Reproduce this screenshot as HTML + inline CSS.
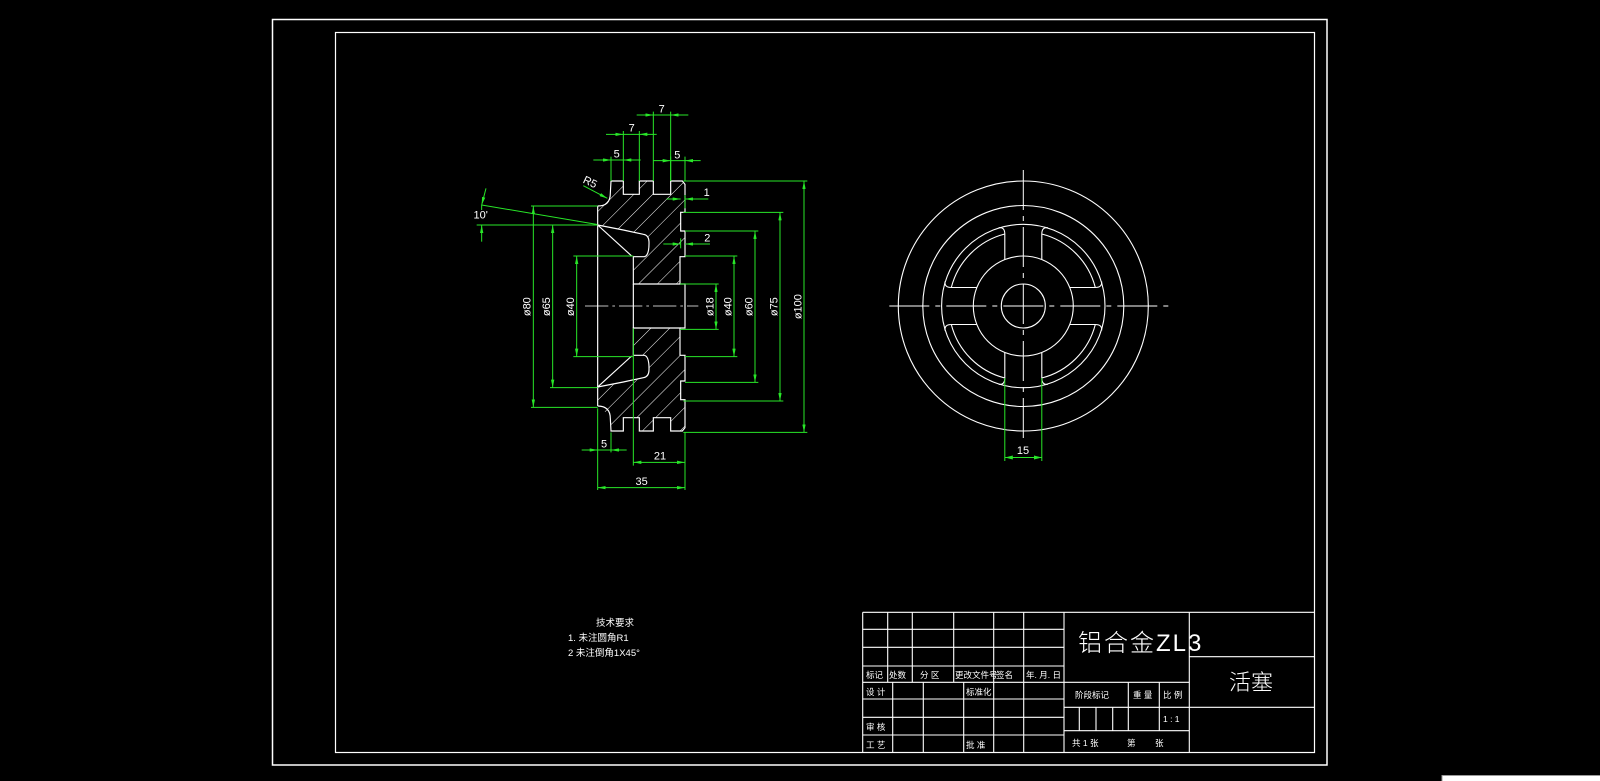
<!DOCTYPE html>
<html><head><meta charset="utf-8"><style>
html,body{margin:0;padding:0;background:#000;}
svg{display:block;}
text{font-family:"Liberation Sans","Noto Sans CJK SC",sans-serif;}
</style></head><body>
<svg width="1600" height="781" viewBox="0 0 1600 781" xmlns="http://www.w3.org/2000/svg">
<defs>
<marker id="ar" markerUnits="userSpaceOnUse" markerWidth="24" markerHeight="10" refX="24" refY="5" orient="auto-start-reverse"><path d="M0,0 L24,5 L0,10 z" fill="#28e628"/></marker>
<marker id="ars" markerUnits="userSpaceOnUse" markerWidth="8" markerHeight="4" refX="8" refY="2" orient="auto-start-reverse"><path d="M0,0 L8,2 L0,4 z" fill="#28e628"/></marker>
<pattern id="hatch" patternUnits="userSpaceOnUse" width="40" height="40" patternTransform="rotate(45)"><line x1="0" y1="0" x2="0" y2="40" stroke="#fff" stroke-width="3"/></pattern>
</defs>
<rect width="1600" height="781" fill="#000"/>
<rect x="272.5" y="19.5" width="1054.5" height="745.5" fill="none" stroke="#fff" stroke-width="1.5"/>
<rect x="335.5" y="32.5" width="979" height="720" fill="none" stroke="#fff" stroke-width="1.2"/>
<rect x="1442" y="775.5" width="160" height="8" fill="#fff" stroke="#999" stroke-width="1"/>

<g transform="translate(450 95) scale(0.333333)">
 <polygon points="443,390 443,333 478,305 483,258 520,258 520,298 568,298 568,258 610,258 610,298 662,298 662,258 697,258 705,268 705,352 692,352 692,408 705,408 705,485 690,485 690,567 550,567 550,485 583,485 597,460 597,432 585,420 520,405" fill="url(#hatch)"/>
 <polygon points="443,876 443,933 478,961 483,1008 520,1008 520,968 568,968 568,1008 610,1008 610,968 662,968 662,1008 697,1008 705,998 705,914 692,914 692,858 705,858 705,781 690,781 690,699 550,699 550,781 583,781 597,806 597,834 585,846 520,861" fill="url(#hatch)"/>
 <g fill="none" stroke="#fff" stroke-width="3.5">
  <path d="M443,333 V933"/>
  <path d="M443,333 Q481,333 481,295 L483,258 H520 V298 H568 V258 H610 V298 H662 V258 H697 L705,268 V352 H692 V408 H705 V485 H690 V567 H550 V485 H583 Q598,482 597,440 Q596,420 580,418 L520,405 L443,390 L545,483 M690,485 H705"/>
  <path d="M443,933 Q481,933 481,971 L483,1008 H520 V968 H568 V1008 H610 V968 H662 V1008 H697 L705,998 V914 H692 V858 H705 V781 H690 V699 H550 V781 H583 Q598,784 597,826 Q596,846 580,848 L520,861 L443,876 L545,783 M690,781 H705"/>
  <path d="M690,567 H705 V699 H690 M550,567 V699"/>
  <path d="M405,633 H745" stroke-width="2.5" stroke-dasharray="70,12,8,12"/>
 </g>
 <g stroke="#28e628" stroke-width="3" fill="none">
  <path d="M610,258 V50 M662,258 V50"/>
  <path d="M560,60 H610" marker-end="url(#ar)"/><path d="M715,60 H662" marker-end="url(#ar)"/><path d="M610,60 H662"/>
  <path d="M520,258 V108 M568,258 V108"/>
  <path d="M468,118 H520" marker-end="url(#ar)"/><path d="M620,118 H568" marker-end="url(#ar)"/><path d="M520,118 H568"/>
  <path d="M483,258 V185"/>
  <path d="M430,195 H483" marker-end="url(#ar)"/><path d="M572,195 H520" marker-end="url(#ar)"/><path d="M483,195 H520"/>
  <path d="M705,258 V185 M662,258 V185"/>
  <path d="M610,197 H662" marker-end="url(#ar)"/><path d="M752,197 H705" marker-end="url(#ar)"/><path d="M662,197 H705"/>
  <path d="M400,272 L472,310" marker-end="url(#ar)"/>
  <path d="M650,312 H692" marker-end="url(#ar)"/><path d="M775,312 H705" marker-end="url(#ar)"/><path d="M705,300 V340"/>
  <path d="M640,447 H692" marker-end="url(#ar)"/><path d="M780,447 H705" marker-end="url(#ar)"/><path d="M692,430 V460"/>
  <path d="M95,330 L440,388 M80,390 H440"/>
  <path d="M108,280 L95,330" marker-end="url(#ar)"/><path d="M95,440 V390" marker-end="url(#ar)"/><path d="M95,330 L95,345"/>
  <path d="M243,333 H443 M243,937 H443"/>
  <path d="M250,333 V937" marker-start="url(#ar)" marker-end="url(#ar)"/>
  <path d="M300,390 H443 M300,878 H443"/>
  <path d="M308,390 V878" marker-start="url(#ar)" marker-end="url(#ar)"/>
  <path d="M370,483 H550 M370,785 H550"/>
  <path d="M380,483 V785" marker-start="url(#ar)" marker-end="url(#ar)"/>
  <path d="M690,567 H806 M690,703 H806"/>
  <path d="M798,567 V703" marker-start="url(#ar)" marker-end="url(#ar)"/>
  <path d="M705,483 H862 M705,785 H862"/>
  <path d="M852,483 V785" marker-start="url(#ar)" marker-end="url(#ar)"/>
  <path d="M705,408 H925 M705,862 H925"/>
  <path d="M915,408 V862" marker-start="url(#ar)" marker-end="url(#ar)"/>
  <path d="M700,352 H1000 M700,918 H1000"/>
  <path d="M990,352 V918" marker-start="url(#ar)" marker-end="url(#ar)"/>
  <path d="M700,258 H1072 M700,1012 H1072"/>
  <path d="M1062,258 V1012" marker-start="url(#ar)" marker-end="url(#ar)"/>
  <path d="M443,940 V1185 M483,1012 V1072 M550,700 V1112 M705,1012 V1185"/>
  <path d="M395,1065 H443" marker-end="url(#ar)"/><path d="M530,1065 H483" marker-end="url(#ar)"/><path d="M443,1065 H483"/>
  <path d="M550,1102 H705" marker-start="url(#ar)" marker-end="url(#ar)"/>
  <path d="M443,1178 H705" marker-start="url(#ar)" marker-end="url(#ar)"/>
 </g>
 <g fill="#fff" font-size="33">
  <text x="635" y="52" text-anchor="middle">7</text>
  <text x="545" y="110" text-anchor="middle">7</text>
  <text x="500" y="188" text-anchor="middle">5</text>
  <text x="682" y="190" text-anchor="middle">5</text>
  <text x="420" y="272" text-anchor="middle" transform="rotate(25 420 262)">R5</text>
  <text x="770" y="303" text-anchor="middle">1</text>
  <text x="772" y="440" text-anchor="middle">2</text>
  <text x="92" y="370" text-anchor="middle">10'</text>
  <text x="462" y="1058" text-anchor="middle">5</text>
  <text x="630" y="1093" text-anchor="middle">21</text>
  <text x="575" y="1170" text-anchor="middle">35</text>
  <text transform="translate(242 635) rotate(-90)" text-anchor="middle">ø80</text>
  <text transform="translate(300 635) rotate(-90)" text-anchor="middle">ø65</text>
  <text transform="translate(372 635) rotate(-90)" text-anchor="middle">ø40</text>
  <text transform="translate(790 635) rotate(-90)" text-anchor="middle">ø18</text>
  <text transform="translate(844 635) rotate(-90)" text-anchor="middle">ø40</text>
  <text transform="translate(907 635) rotate(-90)" text-anchor="middle">ø60</text>
  <text transform="translate(982 635) rotate(-90)" text-anchor="middle">ø75</text>
  <text transform="translate(1054 635) rotate(-90)" text-anchor="middle">ø100</text>
 </g>
</g>

<g transform="translate(1023.3 306)" fill="none" stroke="#fff" stroke-width="1.1">
 <circle r="125"/><circle r="100.5"/><circle r="81.7"/><circle r="50"/><circle r="22"/>
 <g id="sp">
  <path d="M-18.5,-46.4 V-72 Q-18.5,-79 -24.5,-78.3 M18.5,-46.4 V-72 Q18.5,-79 24.5,-78.3 M18.5,-72 A74.3,74.3 0 0 1 72,-18.5"/>
 </g>
 <use href="#sp" transform="rotate(90)"/>
 <use href="#sp" transform="rotate(180)"/>
 <use href="#sp" transform="rotate(270)"/>
 <path d="M-134,0 H147 M0,-136 V136" stroke-dasharray="40,6,5,6" stroke-width="1"/>
</g>
<g stroke="#28e628" stroke-width="1" fill="none">
 <path d="M1004.8,378 V461 M1041.8,378 V461"/>
 <path d="M1004.8,457.5 H1041.8" marker-start="url(#ars)" marker-end="url(#ars)"/>
</g>
<text x="1023" y="454" fill="#fff" font-size="11" text-anchor="middle">15</text>

<g fill="#fff" font-size="9.5" font-family="'Liberation Sans','Noto Sans CJK SC',sans-serif">
 <text x="596" y="626">技术要求</text>
 <text x="568" y="641">1.  未注圆角R1</text>
 <text x="568" y="656">2   未注倒角1X45°</text>
</g>

<g stroke="#fff" stroke-width="1.1" fill="none">
 <path d="M862.7,612.3 H1314.7 M862.7,612.3 V752.3"/>
 <path d="M862.7,629.3 H1064 M862.7,647.3 H1064 M862.7,666 H1064 M862.7,682.3 H1189.3 M862.7,699 H1064 M862.7,717.3 H1064 M862.7,735 H1064"/>
 <path d="M887.7,612.3 V682.3 M912.3,612.3 V682.3 M953.7,612.3 V682.3 M993.7,612.3 V752.3 M1023.7,612.3 V752.3 M1064,612.3 V752.3"/>
 <path d="M892.7,682.3 V752.3 M923.3,682.3 V752.3 M963.7,682.3 V752.3"/>
 <path d="M1064,707.3 H1189.3 M1064,730.7 H1189.3 M1128.3,682.3 V730.7 M1159.3,682.3 V730.7 M1079.3,707.3 V730.7 M1096,707.3 V730.7 M1112.7,707.3 V730.7"/>
 <path d="M1189.3,612.3 V752.3 M1189.3,656.7 H1314.7 M1189.3,707.3 H1314.7"/>
</g>
<g fill="#fff" font-family="'Liberation Sans','Noto Sans CJK SC',sans-serif">
 <g font-size="8.5">
  <text x="866" y="678">标记</text><text x="889" y="678">处数</text><text x="920" y="678">分 区</text>
  <text x="955" y="678">更改文件号</text><text x="996" y="678">签名</text><text x="1026" y="678">年. 月. 日</text>
  <text x="866" y="695">设 计</text><text x="966" y="695">标准化</text>
  <text x="866" y="730">审 核</text>
  <text x="866" y="748">工 艺</text><text x="966" y="748">批 准</text>
  <text x="1075" y="698">阶段标记</text><text x="1133" y="698">重 量</text><text x="1163" y="698">比 例</text>
  <text x="1072" y="746">共 1  张</text><text x="1127" y="746">第</text><text x="1155" y="746">张</text>
  <text x="1163" y="722">1 : 1</text>
 </g>
 <text x="1078" y="651" font-size="24" letter-spacing="2" font-family="'Noto Sans CJK SC',sans-serif" font-weight="300">铝合金ZL3</text>
 <text x="1251" y="690" font-size="22" text-anchor="middle" font-family="'Noto Sans CJK SC',sans-serif" font-weight="300">活塞</text>
</g>
</svg>
</body></html>
